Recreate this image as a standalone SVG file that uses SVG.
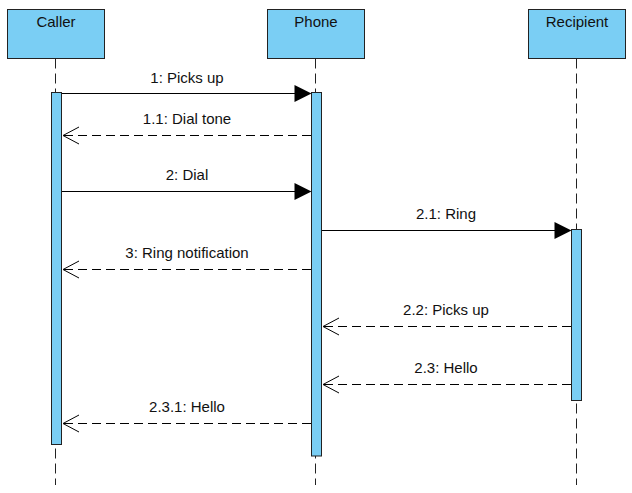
<svg xmlns="http://www.w3.org/2000/svg" width="632" height="493" viewBox="0 0 632 493">
<defs>
<style>
.box{fill:#7acef4;stroke:#222;stroke-width:1}
.bar{fill:#7acef4;stroke:#222;stroke-width:1}
.life{stroke:#222;stroke-width:1;stroke-dasharray:10 5;fill:none}
.msg{stroke:#000;stroke-width:1;fill:none}
.ret{stroke:#000;stroke-width:1;stroke-dasharray:9 5;fill:none}
.open{stroke:#000;stroke-width:1;fill:none}
.head{fill:#000;stroke:none}
text{font-family:"Liberation Sans",Arial,sans-serif;font-size:15px;fill:#111;text-anchor:middle}
</style>
</defs>
<rect width="632" height="493" fill="#fff"/>
<g id="lifelines">
<line class="life" x1="55.5" y1="58.5" x2="55.5" y2="485"/>
<line class="life" x1="315.5" y1="58.5" x2="315.5" y2="485"/>
<line class="life" x1="576.5" y1="58.5" x2="576.5" y2="485"/>
</g>
<g id="caller">
<rect class="box" x="7.5" y="9.5" width="97" height="49"/>
<text x="56" y="27">Caller</text>
<rect class="bar" x="51.5" y="92.5" width="10" height="352"/>
</g>
<g id="phone">
<rect class="box" x="267.5" y="9.5" width="97" height="49"/>
<text x="316" y="27">Phone</text>
<rect class="bar" x="311.5" y="92.5" width="10" height="363.5"/>
</g>
<g id="recipient">
<rect class="box" x="528.5" y="9.5" width="97" height="49"/>
<text x="577" y="27">Recipient</text>
<rect class="bar" x="571.5" y="229.5" width="10" height="171"/>
</g>
<g id="connectors">
<line class="msg" x1="62" y1="93.5" x2="300" y2="93.5"/>
<polygon class="head" points="311.5,93.5 294.5,85 294.5,102"/>
<text x="187" y="82.5">1: Picks up</text>

<line class="ret" x1="311" y1="135.5" x2="63" y2="135.5"/>
<polyline class="open" points="79,127 63,135.5 79,144"/>
<text x="187" y="124">1.1: Dial tone</text>

<line class="msg" x1="62" y1="191.5" x2="300" y2="191.5"/>
<polygon class="head" points="311.5,191.5 294.5,183 294.5,200"/>
<text x="187" y="180">2: Dial</text>

<line class="msg" x1="322" y1="230.5" x2="560" y2="230.5"/>
<polygon class="head" points="571.5,230.5 554.5,222 554.5,239"/>
<text x="446" y="219">2.1: Ring</text>

<line class="ret" x1="311" y1="269.5" x2="63" y2="269.5"/>
<polyline class="open" points="79,261 63,269.5 79,278"/>
<text x="187" y="258">3: Ring notification</text>

<line class="ret" x1="571" y1="326.5" x2="323" y2="326.5"/>
<polyline class="open" points="339,318 323,326.5 339,335"/>
<text x="446" y="315">2.2: Picks up</text>

<line class="ret" x1="571" y1="384.5" x2="323" y2="384.5"/>
<polyline class="open" points="339,376 323,384.5 339,393"/>
<text x="446" y="373">2.3: Hello</text>

<line class="ret" x1="311" y1="423.5" x2="63" y2="423.5"/>
<polyline class="open" points="79,415 63,423.5 79,432"/>
<text x="187" y="412">2.3.1: Hello</text>
</g>
</svg>
